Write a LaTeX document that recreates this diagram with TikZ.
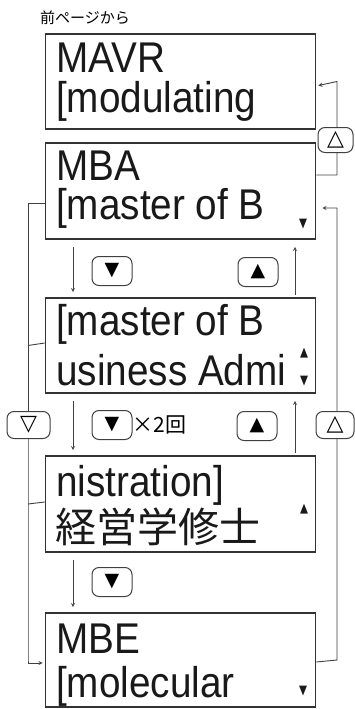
\documentclass[tikz,border=0pt]{standalone}
\usepackage{fontspec}
\usepackage{graphicx}
\usetikzlibrary{positioning}
\newfontfamily\lcdfont[FakeStretch=0.9]{Liberation Sans}
\newfontfamily\jpfont{Noto Sans CJK JP}
\newfontfamily\symfont{DejaVu Sans}
\tikzset{
semithick, % all lines
>=stealth, % all arrows
screen/.style={draw=black!80,line width=1.6pt,minimum width=270pt,inner sep=0pt},
lcd/.style={font={\lcdfont\fontsize{43}{43}\selectfont},inner sep=0pt,anchor=base west,text=black!90},
lcdjp/.style={lcd,font={\jpfont\fontsize{41}{41}\selectfont}},
ind/.style={font={\symfont\fontsize{13}{13}\selectfont},inner sep=0pt,text=black!90},
key/.style={draw=black!75,line width=1pt,rounded corners=7pt,minimum width=40pt,
  minimum height=29pt,inner sep=0pt,fill=white,font={\symfont\fontsize{19}{19}\selectfont}},
sidekey/.style={key,font={\symfont\fontsize{22}{22}\selectfont}},
link/.style={draw=black!75,line width=0.9pt},
down/.style={link,->,shorten <=7pt,shorten >=5pt},
up/.style={link,->,shorten <=2pt,shorten >=7pt}
}
\begin{document}
\begin{tikzpicture}[x=1pt,y=-1pt]
\useasboundingbox (0,0) rectangle (354,709);
% rails
\coordinate (dn) at (73,0);
\coordinate (upx) at (295,0);
\coordinate (lrail) at (28,0);
\coordinate (rrail) at (337,0);
% caption
\node[font={\jpfont\fontsize{15}{15}\selectfont},anchor=west,inner sep=0pt] (prev) at (40,18) {前ページから};
% screens
\node[screen,minimum height=95pt] (mavr) at (180.5,81.5) {};
\node[screen,minimum height=96pt] (mba) at (180.5,191) {};
\node[screen,minimum height=95pt] (mbaA) at (180.5,345.5) {};
\node[screen,minimum height=96pt] (mbaB) at (180.5,504) {};
\node[screen,minimum height=94pt] (mbe) at (180.5,660) {};
% screen texts
\node[lcd] (mavr1) at (56,73) {MAVR};
\node[lcd] (mavr2) at (56,112) {[modulating};
\node[lcd] (mba1) at (56,180) {MBA};
\node[lcd] (mba2) at (56,219) {[master of B};
\node[lcd] (mbaA1) at (56,335) {[master of B};
\node[lcd] (mbaA2) at (56,385) {usiness Admi};
\node[lcd] (mbaB1) at (56,496) {nistration]};
\node[lcdjp] (mbaB2) at (55,542) {経営学修士};
\node[lcd] (mbe1) at (56,653) {MBE};
\node[lcd] (mbe2) at (56,697) {[molecular};
% scroll marks
\node[ind] (mbaDn) at (303,224) {\scalebox{0.8}[1]{▼}};
\node[ind] (mbaAUp) at (304,353) {\scalebox{0.8}[1]{▲}};
\node[ind] (mbaADn) at (304,381) {\scalebox{0.8}[1]{▼}};
\node[ind] (mbaBUp) at (304,509) {\scalebox{0.8}[1]{▲}};
\node[ind] (mbeDn) at (303,691) {\scalebox{0.8}[1]{▼}};
% down and up steps
\draw[down] (mba.south -| dn) -- (mbaA.north -| dn);
\draw[down] (mbaA.south -| dn) -- (mbaB.north -| dn);
\draw[down] (mbaB.south -| dn) -- (mbe.north -| dn);
\draw[up] (mbaA.north -| upx) -- (mba.south -| upx);
\draw[up] (mbaB.north -| upx) -- (mbaA.south -| upx);
% outer loops
\draw[link,->,shorten >=2pt] ([yshift=16pt]mba.east) -| (rrail |- mavr.east) -- ([yshift=-4.5pt]mavr.east);
\draw[link,->,shorten >=6pt] ([yshift=-2pt]mbe.east) -- (rrail |- mbe.east) |- ([yshift=-17pt]mba.east);
\draw[link,->,shorten >=2pt] ([yshift=-12pt]mba.west) -| (lrail |- mbe.west) |- ([yshift=-3pt]mbe.west);
\draw[link] ([yshift=2.5pt]mbaA.west) -- (lrail |- mbaA.west);
\draw[link] ([yshift=2pt]mbaB.west) -- (lrail |- mbaB.west);
% keys
\node[key] (k1dn) at (112,271) {▼};
\node[key] (k1up) at (258,272) {▲};
\node[key] (k2dn) at (112,425) {▼};
\node[anchor=west,inner sep=0pt,font={\jpfont\fontsize{21}{21}\selectfont}] (times) at (k2dn.east) {×2回};
\node[key] (k2up) at (257,426) {▲};
\node[key] (k3dn) at (112,582) {▼};
\node[sidekey,minimum width=35pt,minimum height=25pt] (topup) at (335.5,140) {△};
\node[sidekey,minimum width=38pt,minimum height=27pt] (sideup) at (335,425) {△};
\node[sidekey,minimum width=43pt,minimum height=27pt] (sidedn) at (28.5,425) {▽};
\end{tikzpicture}
\end{document}
